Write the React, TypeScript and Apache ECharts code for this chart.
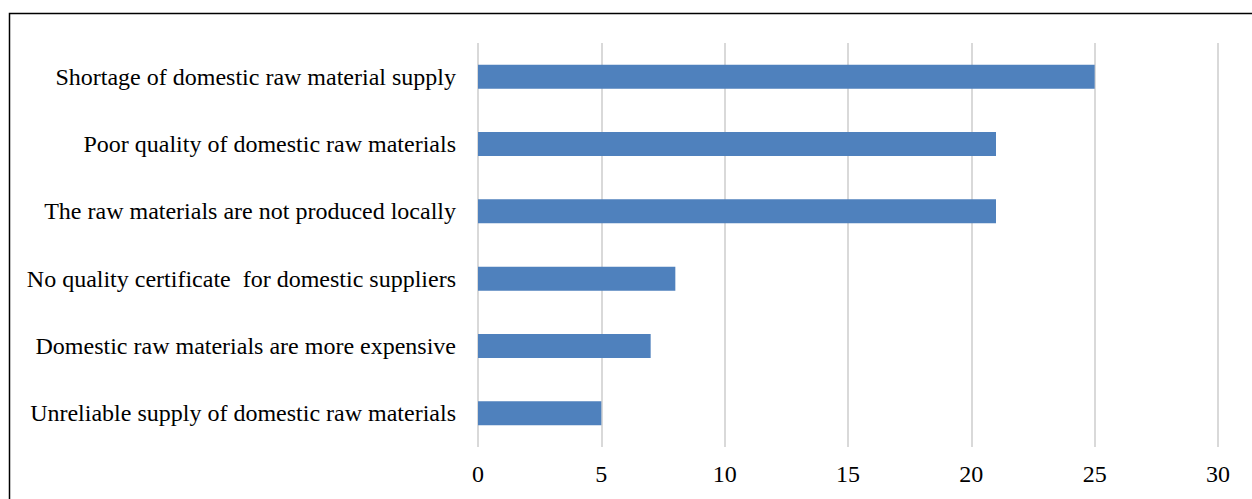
import React, { useEffect, useRef } from "react";
import * as echarts from "echarts";

const categories = [
  "Shortage of domestic raw material supply",
  "Poor quality of domestic raw materials",
  "The raw materials are not produced locally",
  "No quality certificate  for domestic suppliers",
  "Domestic raw materials are more expensive",
  "Unreliable supply of domestic raw materials",
];
const values = [25, 21, 21, 8, 7, 5];
const xTicks = { min: 0, max: 30, interval: 5 };

export default function App() {
  const ref = useRef<HTMLDivElement>(null);
  useEffect(() => {
    if (!ref.current) return;
    const chart = echarts.init(ref.current, undefined, { renderer: "svg" });
    const font = "'Liberation Serif', 'Times New Roman', serif";
    chart.setOption({
      animation: false,
      backgroundColor: "#ffffff",
      graphic: [
        {
          type: "rect",
          shape: { x: 9.5, y: 13.5, width: 1260, height: 520 },
          style: { fill: "none", stroke: "#000000", lineWidth: 1.5 },
          silent: true,
        },
      ],
      grid: { left: 478, right: 34, top: 43, bottom: 52, containLabel: false },
      xAxis: {
        type: "value",
        min: xTicks.min,
        max: xTicks.max,
        interval: xTicks.interval,
        axisLine: { show: false },
        axisTick: { show: false },
        splitLine: { show: true, lineStyle: { color: "#d9d9d9", width: 2 } },
        axisLabel: { color: "#000000", fontFamily: font, fontSize: 24, margin: 15 },
      },
      yAxis: {
        type: "category",
        inverse: true,
        data: categories,
        axisLine: { show: false },
        axisTick: { show: false },
        splitLine: { show: false },
        axisLabel: { color: "#000000", fontFamily: font, fontSize: 24, margin: 22 },
      },
      series: [
        {
          type: "bar",
          data: values,
          barWidth: 24,
          itemStyle: { color: "#4f81bd" },
        },
      ],
    });
    return () => chart.dispose();
  }, []);
  return (
    <div
      ref={ref}
      style={{ position: "fixed", left: 0, top: 0, width: 1252, height: 499 }}
    />
  );
}
